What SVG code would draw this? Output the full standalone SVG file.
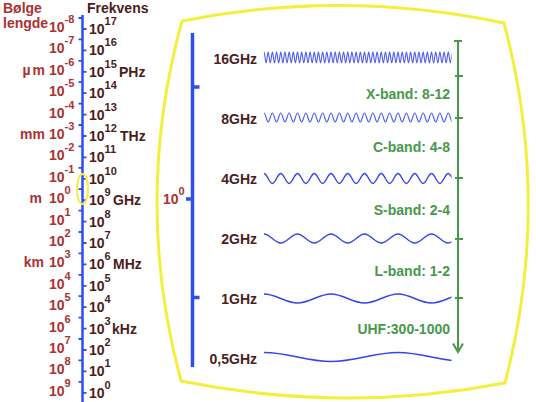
<svg xmlns="http://www.w3.org/2000/svg" width="536" height="402" viewBox="0 0 536 402">
<style>
text{font-family:"Liberation Sans",Arial,sans-serif;font-weight:bold;font-size:14px}
.wl{fill:#aa3232}
.fq{fill:#4a1c1c}
.sup{font-size:11px}
.ghz{fill:#4a1e1e;text-anchor:end}
.band{fill:#46994a;text-anchor:end}
.wave{fill:none;stroke:#3246ea;stroke-width:1.4}
.hf{stroke:#4a5cf0;stroke-width:1.1}
</style>
<defs>
<clipPath id="wclip"><rect x="255" y="0" width="196.5" height="402"/></clipPath>
</defs>
<rect width="536" height="402" fill="#ffffff"/>

<g id="left-scale">
<text class="wl" x="3" y="13">Bølge</text>
<text class="wl" x="3" y="28">lengde</text>
<text class="fq" x="87" y="13">Frekvens</text>
<line x1="82.5" y1="15" x2="82.5" y2="402" stroke="#2e4ef2" stroke-width="2.5"/>
<path stroke="#2e4ef2" stroke-width="1.8" fill="none" d="M78.5,18h4M78.5,39.4h4M78.5,60.8h4M78.5,82.2h4M78.5,103.6h4M78.5,125h4M78.5,146.4h4M78.5,167.8h4M78.5,189.2h4M78.5,210.6h4M78.5,232h4M78.5,253.4h4M78.5,274.8h4M78.5,296.2h4M78.5,317.6h4M78.5,339h4M78.5,360.4h4M78.5,381.8h4M82.5,29h4M82.5,50.4h4M82.5,71.8h4M82.5,93.2h4M82.5,114.6h4M82.5,136h4M82.5,157.4h4M82.5,178.8h4M82.5,200.2h4M82.5,221.6h4M82.5,243h4M82.5,264.4h4M82.5,285.8h4M82.5,307.2h4M82.5,328.6h4M82.5,350h4M82.5,371.4h4M82.5,392.8h4"/>
<ellipse cx="82.5" cy="189" rx="5.5" ry="15" fill="none" stroke="#f4ee3f" stroke-width="2"/>
<g class="wl">
<text x="49" y="32">10<tspan class="sup" dy="-9">-8</tspan></text>
<text x="49" y="53.4">10<tspan class="sup" dy="-9">-7</tspan></text>
<text x="49" y="74.8">10<tspan class="sup" dy="-9">-6</tspan></text>
<text x="49" y="96.2">10<tspan class="sup" dy="-9">-5</tspan></text>
<text x="49" y="117.6">10<tspan class="sup" dy="-9">-4</tspan></text>
<text x="49" y="139">10<tspan class="sup" dy="-9">-3</tspan></text>
<text x="49" y="160.4">10<tspan class="sup" dy="-9">-2</tspan></text>
<text x="49" y="181.8">10<tspan class="sup" dy="-9">-1</tspan></text>
<text x="49" y="203.2">10<tspan class="sup" dy="-9">0</tspan></text>
<text x="49" y="224.6">10<tspan class="sup" dy="-9">1</tspan></text>
<text x="49" y="246">10<tspan class="sup" dy="-9">2</tspan></text>
<text x="49" y="267.4">10<tspan class="sup" dy="-9">3</tspan></text>
<text x="49" y="288.8">10<tspan class="sup" dy="-9">4</tspan></text>
<text x="49" y="310.2">10<tspan class="sup" dy="-9">5</tspan></text>
<text x="49" y="331.6">10<tspan class="sup" dy="-9">6</tspan></text>
<text x="49" y="353">10<tspan class="sup" dy="-9">7</tspan></text>
<text x="49" y="374.4">10<tspan class="sup" dy="-9">8</tspan></text>
<text x="49" y="395.8">10<tspan class="sup" dy="-9">9</tspan></text>
<text x="45" y="74.8" text-anchor="end">µ<tspan dx="2">m</tspan></text>
<text x="45" y="139" text-anchor="end">mm</text>
<text x="42" y="203.2" text-anchor="end">m</text>
<text x="44" y="267.4" text-anchor="end">km</text>
</g>
<g class="fq">
<text x="89" y="34">10<tspan class="sup" dy="-9">17</tspan></text>
<text x="89" y="55.4">10<tspan class="sup" dy="-9">16</tspan></text>
<text x="89" y="76.8">10<tspan class="sup" dy="-9">15</tspan></text>
<text x="89" y="98.2">10<tspan class="sup" dy="-9">14</tspan></text>
<text x="89" y="119.6">10<tspan class="sup" dy="-9">13</tspan></text>
<text x="89" y="141">10<tspan class="sup" dy="-9">12</tspan></text>
<text x="89" y="162.4">10<tspan class="sup" dy="-9">11</tspan></text>
<text x="89" y="183.8">10<tspan class="sup" dy="-9">10</tspan></text>
<text x="89" y="205.2">10<tspan class="sup" dy="-9">9</tspan></text>
<text x="89" y="226.6">10<tspan class="sup" dy="-9">8</tspan></text>
<text x="89" y="248">10<tspan class="sup" dy="-9">7</tspan></text>
<text x="89" y="269.4">10<tspan class="sup" dy="-9">6</tspan></text>
<text x="89" y="290.8">10<tspan class="sup" dy="-9">5</tspan></text>
<text x="89" y="312.2">10<tspan class="sup" dy="-9">4</tspan></text>
<text x="89" y="333.6">10<tspan class="sup" dy="-9">3</tspan></text>
<text x="89" y="355">10<tspan class="sup" dy="-9">2</tspan></text>
<text x="89" y="376.4">10<tspan class="sup" dy="-9">1</tspan></text>
<text x="89" y="397.8">10<tspan class="sup" dy="-9">0</tspan></text>
<text x="119" y="76.8">PHz</text>
<text x="120" y="141">THz</text>
<text x="113" y="205.2">GHz</text>
<text x="113" y="269.4">MHz</text>
<text x="112" y="333.6">kHz</text>
</g>
</g>

<g id="screen">
<path d="M182,21 Q343,-11 504,23 Q552,203 505,383 Q343,414 181,381 Q132.5,201 182,21 Z" fill="none" stroke="#f4ee3f" stroke-width="3" stroke-linejoin="miter"/>
</g>

<g id="scale-bar">
<path d="M192.5,33V367M192.5,87H199.5M192.5,199H186M192.5,297.5H199.5" fill="none" stroke="#2e4ef2" stroke-width="3.5"/>
<text class="wl" x="163" y="204">10<tspan class="sup" dy="-9">0</tspan></text>
</g>

<g id="labels">
<text class="ghz" x="257" y="64">16GHz</text>
<text class="ghz" x="257" y="124">8GHz</text>
<text class="ghz" x="257" y="183.5">4GHz</text>
<text class="ghz" x="257" y="244">2GHz</text>
<text class="ghz" x="257" y="303.5">1GHz</text>
<text class="ghz" x="257" y="363.5">0,5GHz</text>
</g>

<g id="waves" clip-path="url(#wclip)">
<path id="w16" class="wave hf" d="M264,52c0.761,0 1.333,11 2.094,11
s1.333,-11 2.094,-11s1.333,11 2.094,11s1.333,-11 2.094,-11s1.333,11 2.094,11s1.333,-11 2.094,-11s1.333,11 2.094,11s1.333,-11 2.094,-11s1.333,11 2.094,11s1.333,-11 2.094,-11s1.333,11 2.094,11s1.333,-11 2.094,-11s1.333,11 2.094,11s1.333,-11 2.094,-11s1.333,11 2.094,11s1.333,-11 2.094,-11s1.333,11 2.094,11s1.333,-11 2.094,-11s1.333,11 2.094,11s1.333,-11 2.094,-11s1.333,11 2.094,11s1.333,-11 2.094,-11s1.333,11 2.094,11
s1.333,-11 2.094,-11s1.333,11 2.094,11s1.333,-11 2.094,-11s1.333,11 2.094,11s1.333,-11 2.094,-11s1.333,11 2.094,11s1.333,-11 2.094,-11s1.333,11 2.094,11s1.333,-11 2.094,-11s1.333,11 2.094,11s1.333,-11 2.094,-11s1.333,11 2.094,11s1.333,-11 2.094,-11s1.333,11 2.094,11s1.333,-11 2.094,-11s1.333,11 2.094,11s1.333,-11 2.094,-11s1.333,11 2.094,11s1.333,-11 2.094,-11s1.333,11 2.094,11s1.333,-11 2.094,-11s1.333,11 2.094,11
s1.333,-11 2.094,-11s1.333,11 2.094,11s1.333,-11 2.094,-11s1.333,11 2.094,11s1.333,-11 2.094,-11s1.333,11 2.094,11s1.333,-11 2.094,-11s1.333,11 2.094,11s1.333,-11 2.094,-11s1.333,11 2.094,11s1.333,-11 2.094,-11s1.333,11 2.094,11s1.333,-11 2.094,-11s1.333,11 2.094,11s1.333,-11 2.094,-11s1.333,11 2.094,11s1.333,-11 2.094,-11s1.333,11 2.094,11s1.333,-11 2.094,-11s1.333,11 2.094,11s1.333,-11 2.094,-11s1.333,11 2.094,11
s1.333,-11 2.094,-11s1.333,11 2.094,11s1.333,-11 2.094,-11s1.333,11 2.094,11s1.333,-11 2.094,-11s1.333,11 2.094,11s1.333,-11 2.094,-11s1.333,11 2.094,11s1.333,-11 2.094,-11s1.333,11 2.094,11s1.333,-11 2.094,-11s1.333,11 2.094,11s1.333,-11 2.094,-11s1.333,11 2.094,11s1.333,-11 2.094,-11s1.333,11 2.094,11s1.333,-11 2.094,-11s1.333,11 2.094,11s1.333,-11 2.094,-11s1.333,11 2.094,11s1.333,-11 2.094,-11s1.333,11 2.094,11
s1.333,-11 2.094,-11"/>
<path id="w8" class="wave hf" d="M264,113c1.52,0 2.67,9 4.1875,9
s2.67,-9 4.1875,-9s2.67,9 4.1875,9s2.67,-9 4.1875,-9s2.67,9 4.1875,9s2.67,-9 4.1875,-9s2.67,9 4.1875,9s2.67,-9 4.1875,-9s2.67,9 4.1875,9s2.67,-9 4.1875,-9s2.67,9 4.1875,9s2.67,-9 4.1875,-9s2.67,9 4.1875,9
s2.67,-9 4.1875,-9s2.67,9 4.1875,9s2.67,-9 4.1875,-9s2.67,9 4.1875,9s2.67,-9 4.1875,-9s2.67,9 4.1875,9s2.67,-9 4.1875,-9s2.67,9 4.1875,9s2.67,-9 4.1875,-9s2.67,9 4.1875,9s2.67,-9 4.1875,-9s2.67,9 4.1875,9
s2.67,-9 4.1875,-9s2.67,9 4.1875,9s2.67,-9 4.1875,-9s2.67,9 4.1875,9s2.67,-9 4.1875,-9s2.67,9 4.1875,9s2.67,-9 4.1875,-9s2.67,9 4.1875,9s2.67,-9 4.1875,-9s2.67,9 4.1875,9s2.67,-9 4.1875,-9s2.67,9 4.1875,9
s2.67,-9 4.1875,-9s2.67,9 4.1875,9s2.67,-9 4.1875,-9s2.67,9 4.1875,9s2.67,-9 4.1875,-9s2.67,9 4.1875,9s2.67,-9 4.1875,-9s2.67,9 4.1875,9"/>
<path id="w4" class="wave" d="M264,173.5c3.04,0 5.335,10 8.375,10
s5.335,-10 8.375,-10s5.335,10 8.375,10s5.335,-10 8.375,-10s5.335,10 8.375,10s5.335,-10 8.375,-10s5.335,10 8.375,10s5.335,-10 8.375,-10s5.335,10 8.375,10s5.335,-10 8.375,-10s5.335,10 8.375,10s5.335,-10 8.375,-10s5.335,10 8.375,10
s5.335,-10 8.375,-10s5.335,10 8.375,10s5.335,-10 8.375,-10s5.335,10 8.375,10s5.335,-10 8.375,-10s5.335,10 8.375,10s5.335,-10 8.375,-10s5.335,10 8.375,10s5.335,-10 8.375,-10s5.335,10 8.375,10"/>
<path id="w2" class="wave" d="M264,234c6.09,0 10.66,9 16.75,9
s10.66,-9 16.75,-9s10.66,9 16.75,9s10.66,-9 16.75,-9s10.66,9 16.75,9s10.66,-9 16.75,-9s10.66,9 16.75,9s10.66,-9 16.75,-9s10.66,9 16.75,9s10.66,-9 16.75,-9s10.66,9 16.75,9s10.66,-9 16.75,-9"/>
<path id="w1" class="wave" d="M264,294c12.17,0 21.33,9 33.5,9s21.33,-9 33.5,-9s21.33,9 33.5,9s21.33,-9 33.5,-9s21.33,9 33.5,9s21.33,-9 33.5,-9"/>
<path id="w05" class="wave" d="M264,352.5c24.35,0 42.65,9 67,9s42.65,-9 67,-9s42.65,9 67,9"/>
</g>

<g id="connectors">
<path d="M458,41V351.5M454,41H462M455,76H463M455,118H463M455,178H463M455,239H463M455,298H463M453,343.5L458,352L463,343.5" fill="none" stroke="#46994a" stroke-width="2"/>
</g>

<g id="bands">
<text class="band" x="450" y="99">X-band: 8-12</text>
<text class="band" x="450" y="152">C-band: 4-8</text>
<text class="band" x="450" y="215">S-band: 2-4</text>
<text class="band" x="450" y="276">L-band: 1-2</text>
<text class="band" x="450" y="334">UHF:300-1000</text>
</g>
</svg>
